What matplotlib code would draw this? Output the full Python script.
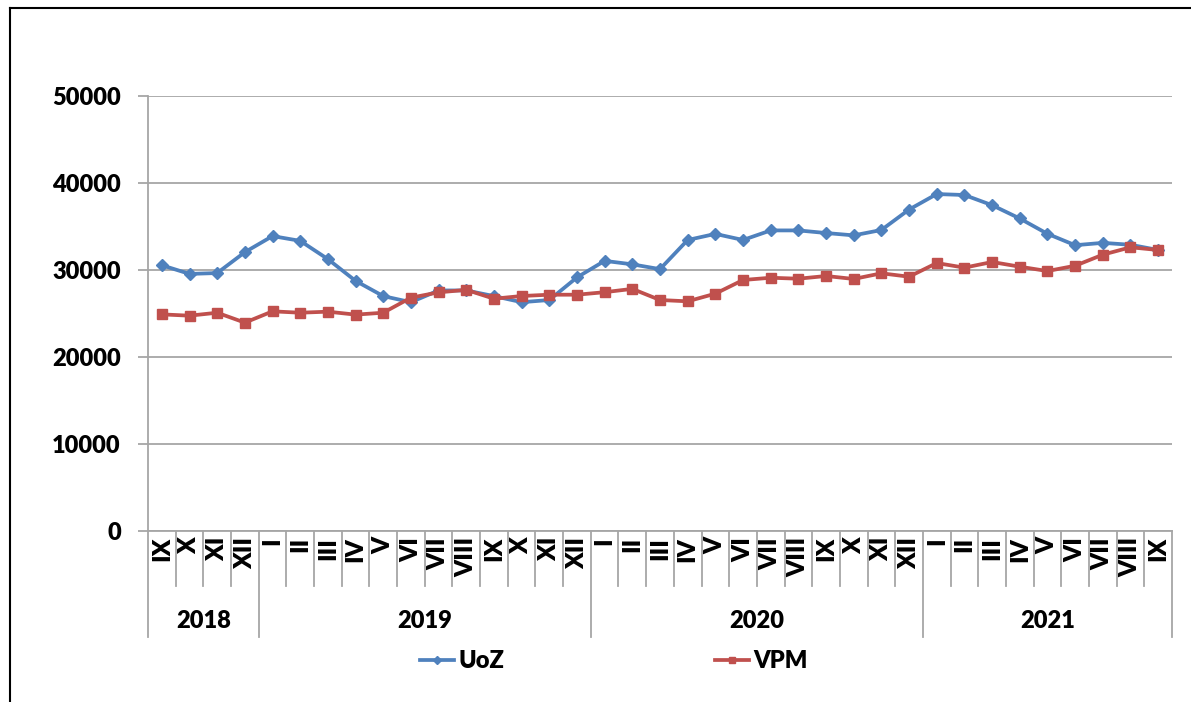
import matplotlib
matplotlib.use("Agg")
import matplotlib.pyplot as plt
from matplotlib.lines import Line2D
import matplotlib.transforms as mtransforms

# ---- data ----
months = ["IX", "X", "XI", "XII",
          "I", "II", "III", "IV", "V", "VI", "VII", "VIII", "IX", "X", "XI", "XII",
          "I", "II", "III", "IV", "V", "VI", "VII", "VIII", "IX", "X", "XI", "XII",
          "I", "II", "III", "IV", "V", "VI", "VII", "VIII", "IX"]
years = ["2018", "2019", "2020", "2021"]
year_counts = [4, 12, 12, 9]

uoz = [30550, 29550, 29650, 32050,
       33900, 33350, 31250, 28750, 27000, 26300, 27650, 27650, 27000, 26300, 26550, 29150,
       31050, 30650, 30100, 33450, 34150, 33450, 34550, 34550, 34250, 33980, 34600, 36950,
       38730, 38620, 37450, 35920, 34160, 32850, 33120, 32900, 32300]
vpm = [24900, 24750, 25090, 23950,
       25250, 25090, 25210, 24870, 25090, 26820, 27430, 27720, 26700, 27010, 27160, 27160,
       27450, 27830, 26550, 26400, 27280, 28850, 29110, 29000, 29310, 28970, 29620, 29230,
       30800, 30270, 30920, 30380, 29880, 30490, 31760, 32610, 32300]
yticks = [0, 10000, 20000, 30000, 40000, 50000]

BLUE = "#4F81BD"
RED = "#C0504D"
GRID = "#A6A6A6"
FONT = ["Lato", "DejaVu Sans"]
WEIGHT = 'heavy'

plt.rcParams['font.family'] = FONT
plt.rcParams['font.weight'] = 'bold'

W, H = 1191, 702
fig = plt.figure(figsize=(W / 100, H / 100), dpi=100)
ax = fig.add_axes([148 / W, (H - 531) / H, (1172 - 148) / W, (531 - 96) / H])

n = len(months)
x = list(range(n))
ax.plot(x, uoz, color=BLUE, lw=2.7, marker="D", ms=6.5, mfc=BLUE, mec=BLUE, label="UoZ", zorder=3)
ax.plot(x, vpm, color=RED, lw=2.7, marker="s", ms=6.5, mfc=RED, mec=RED, label="VPM", zorder=3)

ax.set_xlim(-0.5, n - 0.5)
ax.set_ylim(0, 50000)
ax.set_yticks(yticks)
ax.set_yticklabels([str(v) for v in yticks], fontsize=17, fontweight=WEIGHT)
ax.yaxis.grid(True, color=GRID, lw=1.3)
ax.set_axisbelow(True)
ax.tick_params(axis='y', length=7.5, width=1.3, color=GRID, pad=12)
ax.set_xticks([])
for s in ["top", "right"]:
    ax.spines[s].set_visible(False)
ax.spines["left"].set_color(GRID)
ax.spines["left"].set_linewidth(1.3)
ax.spines["bottom"].set_color(GRID)
ax.spines["bottom"].set_linewidth(1.3)

trans = mtransforms.blended_transform_factory(ax.transData, ax.transAxes)
y_month = -(586 - 531) / 435
y_year = -(637 - 531) / 435
y_mlab = -(537 - 531) / 435
y_ylab = -(621 - 531) / 435

# month labels and separators
for i, m in enumerate(months):
    ax.text(i, y_mlab, m, transform=trans, rotation=90, ha='center', va='top',
            fontsize=17.5, fontweight=WEIGHT, color='black')
year_bounds = [-0.5]
for c in year_counts:
    year_bounds.append(year_bounds[-1] + c)
for b in range(n + 1):
    xb = b - 0.5
    bottom = y_year if xb in year_bounds else y_month
    ax.plot([xb, xb], [0, bottom], transform=trans, color=GRID, lw=1.3, clip_on=False)

# year labels
for k, yname in enumerate(years):
    xc = (year_bounds[k] + year_bounds[k + 1]) / 2
    ax.text(xc, y_ylab, yname, transform=trans, ha='center', va='center',
            fontsize=17, fontweight=WEIGHT, color='black')

# legend
h1 = Line2D([], [], color=BLUE, lw=2.7, marker="D", ms=4)
h2 = Line2D([], [], color=RED, lw=2.7, marker="s", ms=4)
fig.legend([h1, h2], ["UoZ", "VPM"], loc='center', bbox_to_anchor=(614 / W, (H - 661) / H),
           ncol=2, frameon=False, prop={'family': FONT, 'weight': WEIGHT, 'size': 17},
           handlelength=1.45, handletextpad=0.2, columnspacing=8.9)

# outer chart frame (partially visible)
fig.add_artist(Line2D([10 / W, 10 / W], [0, (H - 8) / H], transform=fig.transFigure, color='black', lw=1.5))
fig.add_artist(Line2D([10 / W, 1.0], [(H - 8) / H, (H - 8) / H], transform=fig.transFigure, color='black', lw=1.5))

fig.savefig("out.png", dpi=100)
